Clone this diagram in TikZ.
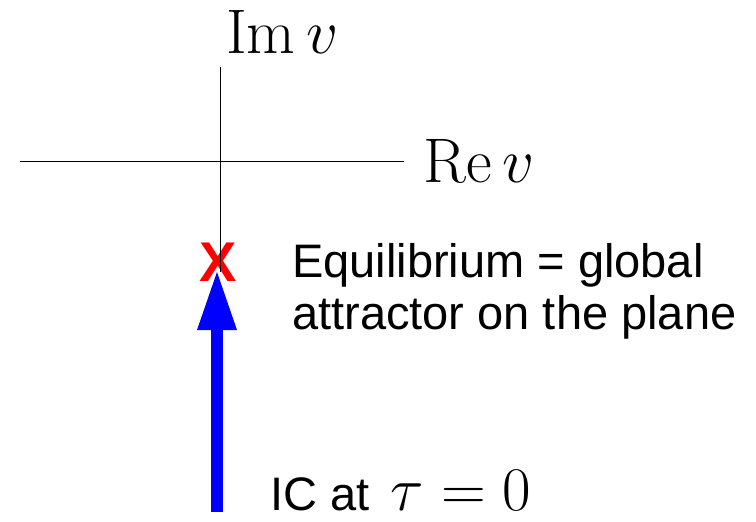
\RequirePackage{fix-cm}
\documentclass[tikz,border=0pt]{standalone}
\usepackage{fontspec}
\newfontfamily\arial{Liberation Sans}
\usetikzlibrary{arrows.meta}
\begin{document}
\begin{tikzpicture}[x=1pt,y=-1pt,
  axis/.style={line width=1pt, black},
  mathlbl/.style={inner sep=0pt, anchor=base west, font=\fontsize{63}{72}\selectfont},
  sanslbl/.style={inner sep=0pt, anchor=base west, font=\arial\fontsize{47}{53}\selectfont},
  eqmark/.style={inner sep=0pt, text=red, font=\arial\bfseries\fontsize{56}{60}\selectfont},
  flow/.style={draw=blue, line width=12pt, -{Triangle[length=58pt,width=40pt,line width=0pt]}}]
\useasboundingbox (0,0) rectangle (756,522);
% equilibrium mark
\node[eqmark] (eq) at (218,262) {X};
% axes
\coordinate (hl) at (20,161);
\coordinate (hr) at (404,161);
\coordinate (vt) at (220,67);
\coordinate (vb) at (220,272);
\draw[axis] (hl) -- (hr);
\draw[axis] (vt) -- (vb);
\node[mathlbl] (im) at (226,53) {$\mathrm{Im}\,v$};
\node[mathlbl] (re) at (423,182) {$\mathrm{Re}\,v$};
% initial condition arrow
\coordinate (ic) at (217,512);
\coordinate (tip) at (217,272);
\draw[flow] (ic) -- (tip);
% labels
\node[sanslbl] (eq1) at (292,277) {Equilibrium = global};
\node[sanslbl] (eq2) at (292,329) {attractor on the plane};
\node[sanslbl] (iclbl) at (270,510) {IC at\ \hspace{8pt}{\fontsize{62}{72}\selectfont$\tau = 0$}};
\end{tikzpicture}
\end{document}
